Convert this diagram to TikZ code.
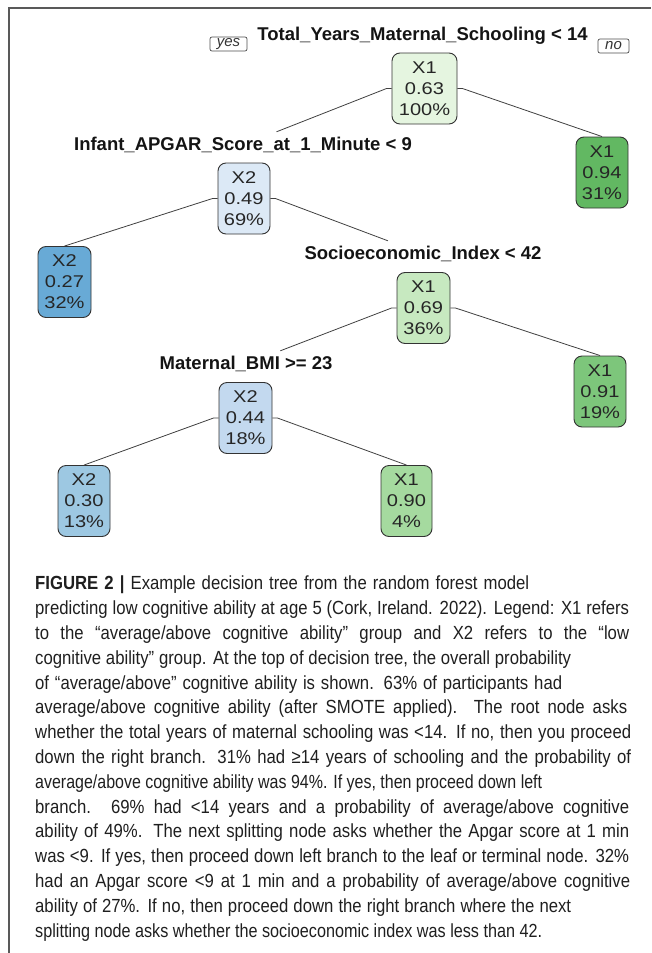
\documentclass[tikz,border=0pt]{standalone}
\usepackage{fontspec}
\usepackage{graphicx}
\setmainfont{Liberation Sans}
\newfontfamily\nodefont[FakeStretch=1.18]{Liberation Sans}
\newfontfamily\capfont[FakeStretch=0.88]{Liberation Sans}
\newlength\capwd
\newcommand\capl[2]{\settowidth\capwd{#2}%
  \ifdim\capwd>#1pt\relax\resizebox{#1pt}{\height}{#2}\else\makebox[#1pt][s]{#2}\fi}
\definecolor{gA}{HTML}{E5F5E0}
\definecolor{gB}{HTML}{C7E9C0}
\definecolor{gC}{HTML}{A5DA9F}
\definecolor{gD}{HTML}{7DC67B}
\definecolor{gE}{HTML}{62B862}
\definecolor{bA}{HTML}{DCE9F6}
\definecolor{bB}{HTML}{C3D9EF}
\definecolor{bC}{HTML}{9DC8E2}
\definecolor{bD}{HTML}{68AAD6}
\begin{document}
\begin{tikzpicture}[x=1pt,y=-1pt,
  tnode/.style={draw=black!80, line width=0.9pt, rounded corners=8pt,
    minimum height=71pt, minimum width=52pt, inner sep=0pt, align=center,
    font=\nodefont\fontsize{17}{21}\selectfont, text=black!85},
  splitlab/.style={font=\bfseries\fontsize{18.5}{20}\selectfont, inner sep=0pt,
    minimum height=26pt, text=black!92},
  yn/.style={draw=black!70, rounded corners=2pt, line width=0.7pt, inner sep=0pt,
    minimum width=37pt, minimum height=14pt, font=\itshape\fontsize{15}{15}\selectfont,
    text=black!80},
  edge/.style={draw=black!75, line width=0.8pt},
  frame/.style={draw=black!65, line width=1.2pt}]
\useasboundingbox (0,0) rectangle (651,953);
% frame
\coordinate (fa) at (9,953);
\coordinate (fb) at (9,8);
\coordinate (fc) at (651,8);
\draw[frame] (fa) -- (fb) -- (fc);
% header
\node[splitlab] (lab0) at (422.5,36) {Total\_Years\_Maternal\_Schooling < 14};
\node[yn] (yes) at (228.5,44) {yes};
\node[yn, minimum width=31pt] (no) at (613.5,46) {no};
% tree nodes
\node[tnode, fill=gA, minimum width=65pt] (root) at (424.5,88.5) {X1\\0.63\\100\%};
\node[tnode, fill=gE] (n094) at (602,172.5) {X1\\0.94\\31\%};
\node[splitlab] (lab1) at (243,145) {Infant\_APGAR\_Score\_at\_1\_Minute < 9};
\node[tnode, fill=bA] (n049) at (244,198.5) {X2\\0.49\\69\%};
\node[tnode, fill=bD, minimum width=53pt] (n027) at (64.5,282) {X2\\0.27\\32\%};
\node[splitlab] (lab2) at (423,254) {Socioeconomic\_Index < 42};
\node[tnode, fill=gB, minimum width=53pt] (n069) at (423.5,308) {X1\\0.69\\36\%};
\node[tnode, fill=gD] (n091) at (600,391.5) {X1\\0.91\\19\%};
\node[splitlab] (lab3) at (246,364) {Maternal\_BMI >= 23};
\node[tnode, fill=bB, minimum width=53pt] (n044) at (245.5,418) {X2\\0.44\\18\%};
\node[tnode, fill=bC] (n030) at (84,501) {X2\\0.30\\13\%};
\node[tnode, fill=gC, minimum width=51pt] (n090) at (406.5,501) {X1\\0.90\\4\%};
% connectors
\draw[edge] (root.west) -- ++(-5,0) -- (lab1);
\draw[edge] (root.east) -- ++(5,0) -- (n094.north);
\draw[edge] (n049.west) -- ++(-5,0) -- (n027.north);
\draw[edge] (n049.east) -- ++(5,0) -- (lab2);
\draw[edge] (n069.west) -- ++(-5,0) -- (lab3);
\draw[edge] (n069.east) -- ++(5,0) -- (n091.north);
\draw[edge] (n044.west) -- ++(-5,0) -- (n030.north);
\draw[edge] (n044.east) -- ++(5,0) -- (n090.north);
% caption
\node[anchor=north west, inner sep=0pt, align=left, text=black!88,
  font=\capfont\fontsize{19}{24.8}\selectfont] (cap) at (35,576) {%
\capl{494}{\textbf{FIGURE 2 |} Example decision tree from the random forest model}\\
\capl{594}{predicting low cognitive ability at age 5 (Cork, Ireland. 2022). Legend: X1 refers}\\
\capl{594}{to the “average/above cognitive ability” group and X2 refers to the “low}\\
\capl{536}{cognitive ability” group. At the top of decision tree, the overall probability}\\
\capl{527}{of “average/above” cognitive ability is shown. 63\% of participants had}\\
\capl{592}{average/above cognitive ability (after SMOTE applied). The root node asks}\\
\capl{596}{whether the total years of maternal schooling was <14. If no, then you proceed}\\
\capl{596}{down the right branch. 31\% had ≥14 years of schooling and the probability of}\\
\capl{507}{average/above cognitive ability was 94\%. If yes, then proceed down left}\\
\capl{594}{branch. 69\% had <14 years and a probability of average/above cognitive}\\
\capl{594}{ability of 49\%. The next splitting node asks whether the Apgar score at 1 min}\\
\capl{594}{was <9. If yes, then proceed down left branch to the leaf or terminal node. 32\%}\\
\capl{595}{had an Apgar score <9 at 1 min and a probability of average/above cognitive}\\
\capl{536}{ability of 27\%. If no, then proceed down the right branch where the next}\\
\capl{507}{splitting node asks whether the socioeconomic index was less than 42.}};
\end{tikzpicture}
\end{document}
